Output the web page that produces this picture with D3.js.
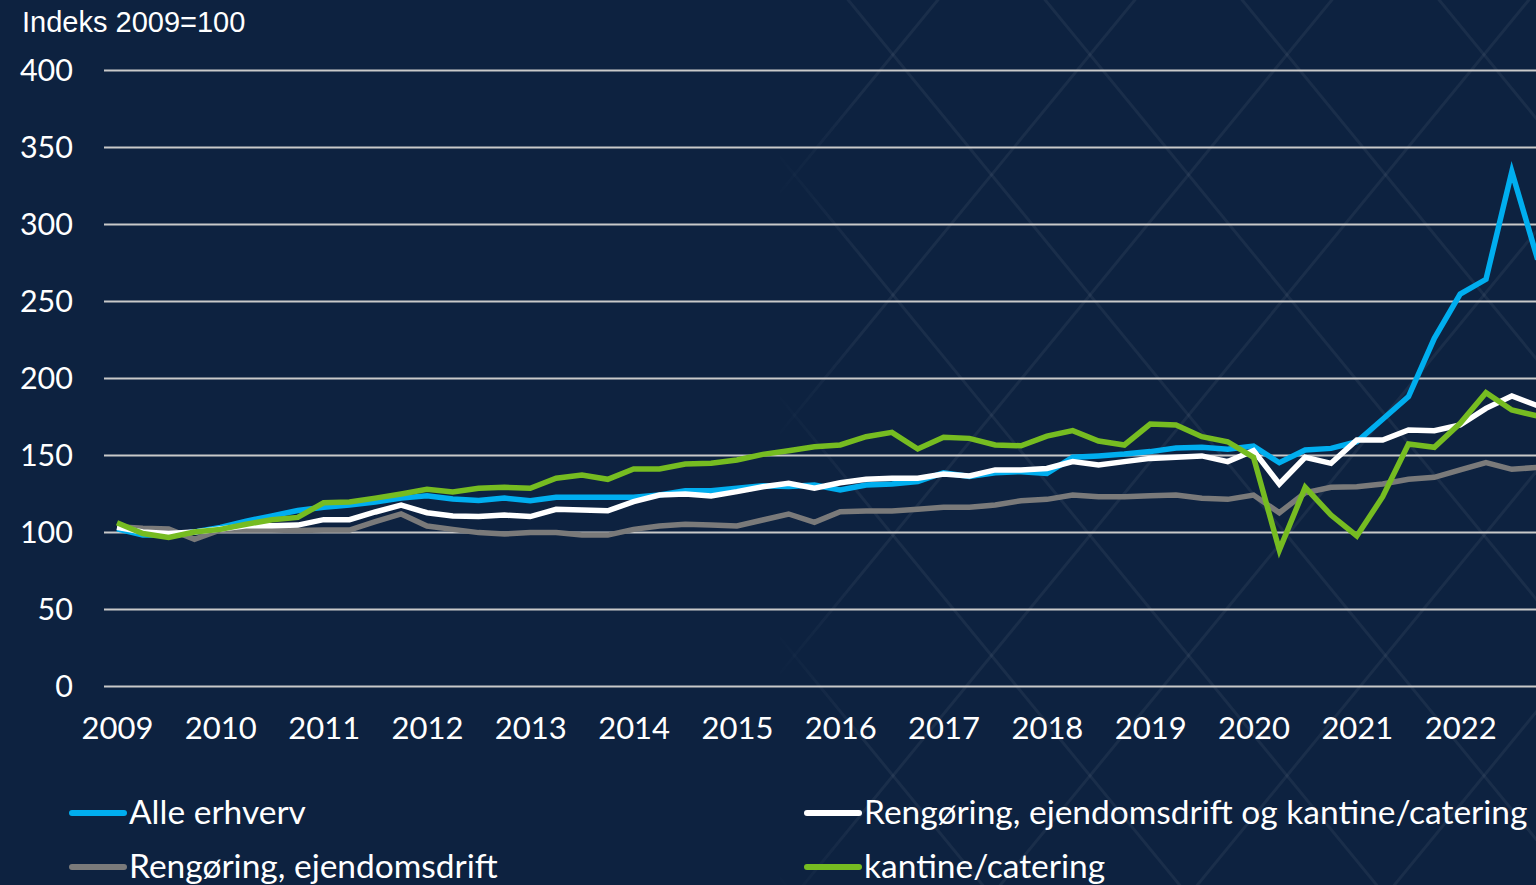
<!DOCTYPE html>
<html>
<head>
<meta charset="utf-8">
<script src="https://cdn.jsdelivr.net/npm/d3@7"></script>
<style>
  html, body { margin: 0; padding: 0; background: #0d2240; overflow: hidden; }
  svg { display: block; }
</style>
</head>
<body>
<svg id="chart" width="1536" height="885"></svg>
<script>
// ---- Data (quarterly, 2009Q1 .. 2022Q4) ----
const yearLabels = ["2009","2010","2011","2012","2013","2014","2015","2016","2017","2018","2019","2020","2021","2022"];
const quarterCount = 56;

const alleErhverv = [102,98,98,100,103,107,110.5,114,116,117.5,119.5,122,123.5,121.5,120.5,122,
  120.3,122.5,122.5,122.5,122.5,124,126.8,126.8,128.4,130,129.5,130.5,127.3,130.5,131.2,132.7,
  138.5,136,138.5,139.2,138.1,148.5,149.4,150.6,152.2,154.5,155,153.7,155.8,145,153.2,154.3,
  158.6,173.2,187.9,225.8,254.5,264.1,334,277];

const rengoeringKantine = [103,100,99,100,102,104,104,104.5,108,108,113,117.5,112.5,110.4,110,111,
  110,114.7,114.3,113.8,119.7,124,124.7,123.4,126.2,129.4,131.6,128.4,132,134.2,134.9,134.9,
  137.7,136.4,140.3,140.3,141.3,145.7,143.5,145.7,147.8,148.5,149.4,145.7,152.8,131.2,148.5,144.6,
  159.7,159.7,166.2,165.8,169.5,180.3,188.3,182];

const rengoeringEjendom = [103.4,102.4,102,95.2,101.3,101.3,101.3,100.9,101.3,101.3,106.7,111.7,103.9,101.7,99.6,98.7,
  99.6,99.6,98,98,101.7,103.9,105,104.5,103.9,107.8,111.7,106.3,113.2,113.6,113.6,114.7,
  116,116,117.5,120.3,121.2,124,122.9,122.9,123.6,124,121.9,121.2,124,112.5,125.5,129,
  129.4,131.2,134.2,135.5,140.3,145,140.7,142];

const kantineCatering = [106,99,96.5,100,101.7,105,108,109.5,119,119.5,122,124.7,127.7,126,128.4,129,
  128.4,134.9,137,134.2,140.9,140.9,144.2,144.6,146.8,150.4,152.8,155.4,156.5,161.9,164.7,153.9,
  161.5,160.8,156.5,156,162.3,165.8,159.1,156.5,170.1,169.5,161.9,158.6,148.5,88.3,129,111,
  97.4,122.9,157.1,155,170.6,190.5,179.2,175.3];

const yTicks = [0,50,100,150,200,250,300,350,400];

const seriesNames = ["Alle erhverv", "Rengøring, ejendomsdrift og kantine/catering", "Rengøring, ejendomsdrift", "kantine/catering"];
const seriesColors = ["#00aeef", "#ffffff", "#7a7a7a", "#76bc21"];
const seriesValues = [alleErhverv, rengoeringKantine, rengoeringEjendom, kantineCatering];

// ---- Chart ----
const W = 1536, H = 885;
const svg = d3.select("#chart");
const bg = "#0d2240";
svg.append("rect").attr("width", W).attr("height", H).attr("fill", bg);

// subtle diamond background pattern on the right side
const defs = svg.append("defs");
const grad = defs.append("linearGradient").attr("id", "decoFade").attr("x1", 0).attr("x2", 1).attr("y1", 0).attr("y2", 0);
grad.append("stop").attr("offset", "0").attr("stop-color", "#fff").attr("stop-opacity", 0);
grad.append("stop").attr("offset", "0.12").attr("stop-color", "#fff").attr("stop-opacity", 1);
grad.append("stop").attr("offset", "1").attr("stop-color", "#fff").attr("stop-opacity", 1);
defs.append("mask").attr("id", "decoMask").attr("maskContentUnits", "userSpaceOnUse")
  .append("rect").attr("x", 770).attr("y", 0).attr("width", W - 770).attr("height", H).attr("fill", "url(#decoFade)");
const deco = svg.append("g").attr("mask", "url(#decoMask)");
const slope = 1.22, x0 = 893, y0 = 295, step = 197;
for (let k = -12; k <= 12; k++) {
  const xa = x0 + k * step;
  [slope, -slope].forEach(s => {
    const ya = -50, yb = H + 50;
    deco.append("line")
      .attr("x1", xa + (ya - y0) / s).attr("y1", ya)
      .attr("x2", xa + (yb - y0) / s).attr("y2", yb)
      .attr("stroke", "#ffffff").attr("stroke-opacity", 0.055).attr("stroke-width", 3);
  });
}

const x = d3.scaleLinear().domain([0, quarterCount - 1]).range([117, 117 + 55 * 25.83]);
const y = d3.scaleLinear().domain([0, 400]).range([686, 70]);

const tickFont = "Lato, 'Liberation Sans', Arial, sans-serif";

// y axis with gridlines
const yAxis = d3.axisLeft(y).tickValues(yTicks).tickSize(-(W - 104)).tickPadding(31).tickFormat(d => d);
const yg = svg.append("g").attr("transform", "translate(104,0)").call(yAxis);
yg.select(".domain").remove();
yg.selectAll(".tick line").attr("stroke", "#c9c9c9").attr("stroke-width", 2);
yg.selectAll(".tick text").attr("fill", "#ffffff").attr("font-family", tickFont)
  .attr("font-size", 30.5).attr("dy", "0.36em");

// x axis labels
const xAxis = d3.axisBottom(x).tickValues(yearLabels.map((d, i) => i * 4)).tickSize(0).tickPadding(0)
  .tickFormat((d, i) => yearLabels[i]);
const xg = svg.append("g").attr("transform", "translate(0,686)").call(xAxis);
xg.select(".domain").remove();
xg.selectAll(".tick text").attr("fill", "#ffffff").attr("font-family", tickFont)
  .attr("font-size", 31).attr("dy", 0).attr("y", 53);

// lines
const line = d3.line().x((d, i) => x(i)).y(d => y(d));
const drawOrder = [0, 2, 1, 3];
drawOrder.forEach(si => {
  svg.append("path").datum(seriesValues[si])
    .attr("d", line).attr("fill", "none")
    .attr("stroke", seriesColors[si]).attr("stroke-width", 5.5)
    .attr("stroke-linejoin", "miter");
});

// title
svg.append("text").attr("x", 22).attr("y", 32).text("Indeks 2009=100")
  .attr("fill", "#ffffff").attr("font-family", "'Liberation Sans', Arial, sans-serif").attr("font-size", 29);

// legend
const legendPos = [[70, 813], [805, 813], [70, 867], [805, 867]];
seriesNames.forEach((name, i) => {
  const [lx, ly] = legendPos[i];
  const g = svg.append("g").attr("transform", `translate(${lx},${ly})`);
  g.append("line").attr("x1", 2).attr("x2", 54).attr("y1", 0).attr("y2", 0)
    .attr("stroke", seriesColors[i]).attr("stroke-width", 6).attr("stroke-linecap", "round");
  g.append("text").attr("x", 59).attr("y", 11).text(name)
    .attr("fill", "#ffffff").attr("font-family", tickFont).attr("font-size", 33.5);
});
</script>
</body>
</html>
